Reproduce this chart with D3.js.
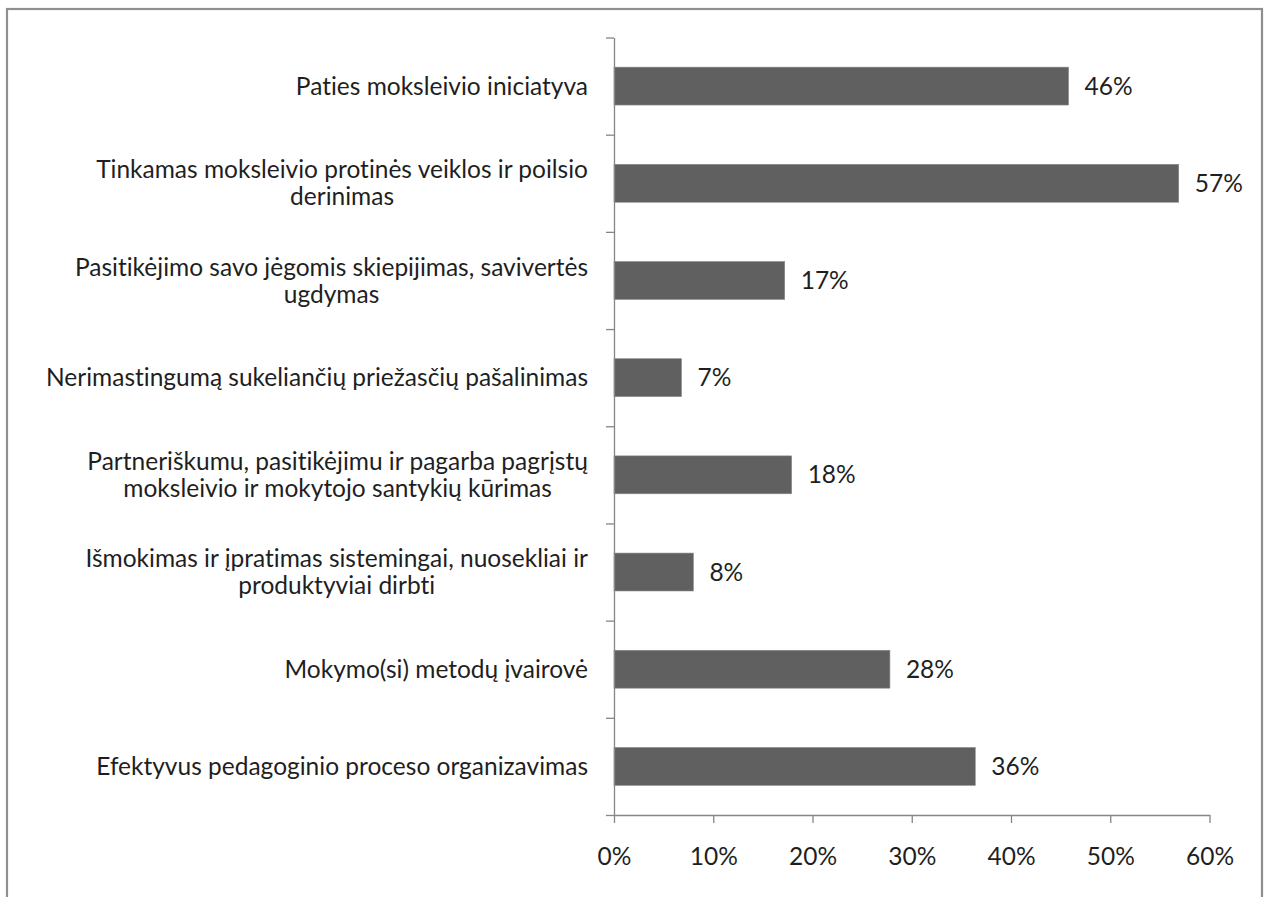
<!DOCTYPE html>
<html>
<head>
<meta charset="utf-8">
<script src="https://cdn.jsdelivr.net/npm/d3@7"></script>
<style>
  html, body { margin: 0; padding: 0; background: #fff; }
  svg { display: block; }
  text { font-family: Lato, "Open Sans", sans-serif; fill: #1f1f1f; font-variant-ligatures: none; font-feature-settings: "liga" 0, "clig" 0; }
</style>
</head>
<body>
<svg id="chart" width="1268" height="897"></svg>
<script>
// ---- data ----
const categories = [
  ["Paties moksleivio iniciatyva"],
  ["Tinkamas moksleivio protinės veiklos ir poilsio", "derinimas"],
  ["Pasitikėjimo savo jėgomis skiepijimas, savivertės", "ugdymas"],
  ["Nerimastingumą sukeliančių priežasčių pašalinimas"],
  ["Partneriškumu, pasitikėjimu ir pagarba pagrįstų", "moksleivio ir mokytojo santykių kūrimas"],
  ["Išmokimas ir įpratimas sistemingai, nuosekliai ir", "produktyviai dirbti"],
  ["Mokymo(si) metodų įvairovė"],
  ["Efektyvus pedagoginio proceso organizavimas"]
];
const values = [45.8, 56.9, 17.2, 6.8, 17.9, 8.0, 27.8, 36.4];
const xTicks = [0, 10, 20, 30, 40, 50, 60];

// ---- layout ----
const svg = d3.select("#chart");
const x0 = 614, x1 = 1209.5, yTop = 37.5, yBot = 815;
const fontSize = 24.5;
const axisColor = "#868686";

// frame
svg.append("rect")
  .attr("x", 7).attr("y", 9).attr("width", 1255).attr("height", 910)
  .attr("fill", "none").attr("stroke", "#8f8f8f").attr("stroke-width", 2.2);

const x = d3.scaleLinear().domain([0, 60]).range([x0, x1]);
const ids = categories.map((d, i) => i);
const y = d3.scaleBand().domain(ids).range([yTop, yBot])
  .paddingInner(0.61).paddingOuter(0.305);
const yEdge = d3.scaleLinear().domain([0, categories.length]).range([yTop, yBot]);

// bars
svg.append("g").selectAll("rect").data(values).join("rect")
  .attr("x", x(0))
  .attr("y", (d, i) => y(i))
  .attr("width", d => x(d) - x(0))
  .attr("height", y.bandwidth())
  .attr("fill", "#606060")
  .attr("stroke", "#8a8a8a")
  .attr("stroke-width", 0.6);

// value labels
svg.append("g").selectAll("text").data(values).join("text")
  .attr("x", d => x(d) + 16)
  .attr("y", (d, i) => y(i) + y.bandwidth() / 2)
  .attr("dy", "0.35em")
  .style("font-size", fontSize + "px")
  .text(d => Math.round(d) + "%");

// y axis (category boundaries ticks)
const yAxis = svg.append("g").attr("transform", `translate(${x0},0)`)
  .call(d3.axisLeft(yEdge).tickValues(d3.range(categories.length + 1))
    .tickFormat("").tickSize(8).tickSizeOuter(0));
yAxis.selectAll("path, line").attr("stroke", axisColor).attr("stroke-width", 1.3);

// x axis
const xAxis = svg.append("g").attr("transform", `translate(0,${yBot})`)
  .call(d3.axisBottom(x).tickValues(xTicks).tickFormat(d => d + "%")
    .tickSize(8).tickSizeOuter(0).tickPadding(25));
xAxis.selectAll("path, line").attr("stroke", axisColor).attr("stroke-width", 1.3);
xAxis.selectAll("text").style("font-size", fontSize + "px")
  .style("font-family", "Lato, 'Open Sans', sans-serif").attr("fill", "#1f1f1f");

// category labels (multi-line, centered block, right edge near axis)
const lineH = 27;
const labelRight = 588;
const lg = svg.append("g");
categories.forEach((lines, i) => {
  const cy = y(i) + y.bandwidth() / 2;
  const t = lg.append("text")
    .style("font-size", fontSize + "px")
    .attr("text-anchor", "middle");
  lines.forEach((ln, k) => {
    t.append("tspan").attr("x", 0)
      .attr("y", cy + (k - (lines.length - 1) / 2) * lineH)
      .attr("dy", "0.35em").text(ln);
  });
  const w = t.node().getBBox().width;
  t.attr("transform", `translate(${labelRight - w / 2},0)`);
});
</script>
</body>
</html>
